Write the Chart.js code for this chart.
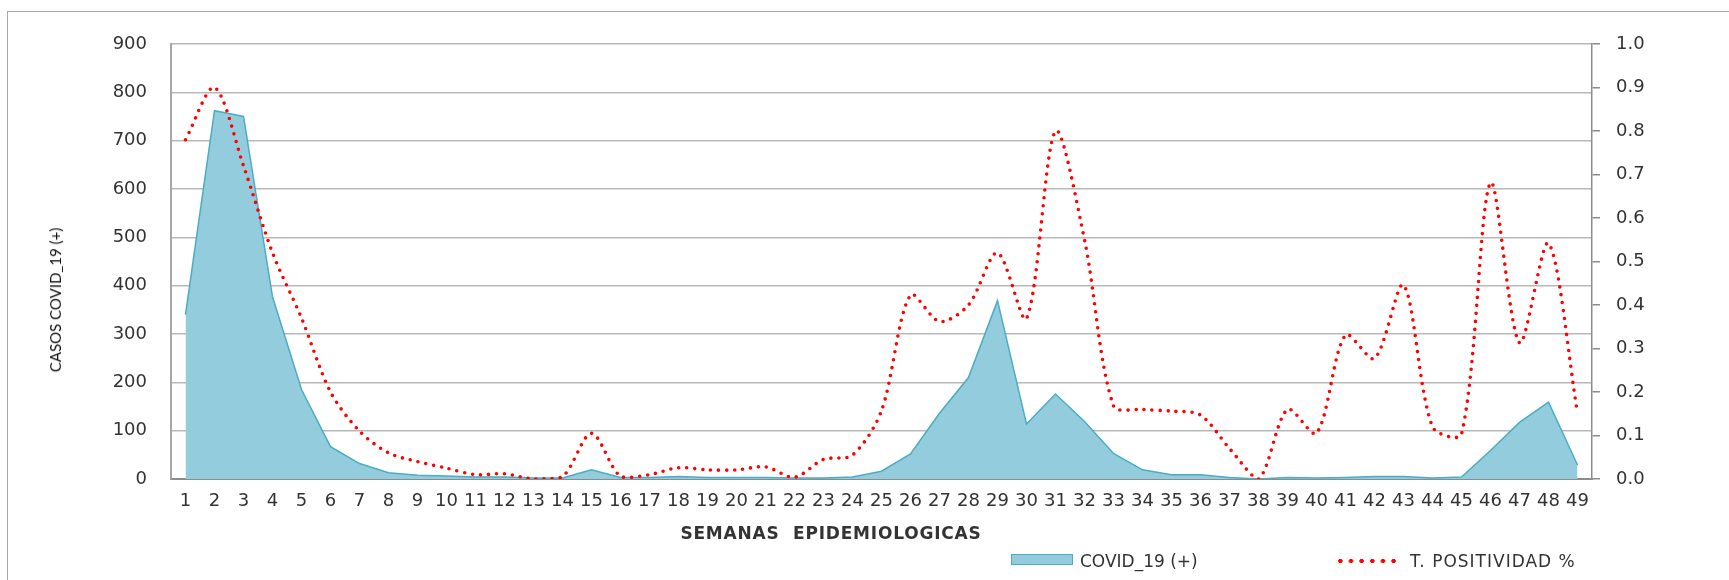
<!DOCTYPE html>
<html>
<head>
<meta charset="utf-8">
<script src="https://cdn.jsdelivr.net/npm/chart.js@4.4.1/dist/chart.umd.min.js"></script>
<style>
  html, body { margin: 0; padding: 0; background: #ffffff; overflow: hidden; }
  #wrap { position: relative; width: 1729px; height: 580px; }
  #frame { position: absolute; left: 7px; top: 11px; width: 1740px; height: 600px; border: 1.5px solid #A9A9A9; box-sizing: border-box; }
  canvas { position: absolute; left: 0; top: 0; }
  .txt { position: absolute; white-space: pre; color: #333333; font-family: "DejaVu Sans", Verdana, sans-serif; line-height: 20px; }
  #xtitle { font-weight: bold; font-size: 17px; letter-spacing: 0.8px; top: 523px; left: 0; width: 1662px; text-align: center; }
  #ytitle { font-family: Lato, "Liberation Sans", sans-serif; font-size: 15px; color: #111; left: 55px; top: 300px; transform: translate(-50%, -50%) rotate(-90deg); }
  #sw1 { position: absolute; left: 1011px; top: 554px; width: 62px; height: 11px; background: #93CDDD; border: 1.5px solid #4BACC6; box-sizing: border-box; }
  #sw2 { position: absolute; left: 1335px; top: 558px; width: 64px; height: 6px;
         background-image: radial-gradient(circle, #FF0000 1.9px, rgba(255,0,0,0) 2.5px);
         background-size: 10.667px 6px; }
  #lt1 { left: 1080px; top: 551px; font-size: 17px; }
  #lt2 { left: 1410px; top: 551px; font-size: 17px; letter-spacing: 1px; }
</style>
</head>
<body>
<div id="wrap">
  <div id="frame"></div>
  <canvas id="c" width="1729" height="580"></canvas>
  <div class="txt" id="xtitle">SEMANAS  EPIDEMIOLOGICAS</div>
  <div class="txt" id="ytitle">CASOS COVID_19 (+)</div>
  <div id="sw1"></div><div class="txt" id="lt1">COVID_19 (+)</div>
  <div id="sw2"></div><div class="txt" id="lt2">T. POSITIVIDAD %</div>
</div>
<script>
// ---- data ----
const weeks = ['1','2','3','4','5','6','7','8','9','10','11','12','13','14','15','16','17','18','19','20',
  '21','22','23','24','25','26','27','28','29','30','31','32','33','34','35','36','37','38','39','40',
  '41','42','43','44','45','46','47','48','49'];

const casosCovid = [340, 762, 750, 377, 185, 67, 32, 13, 8, 6,
  4, 4, 2, 2, 19, 3, 3, 5, 3, 3,
  3, 2, 2, 4, 16, 52, 136, 210, 369, 114,
  176, 119, 53, 19, 9, 9, 3, 0, 3, 2,
  3, 5, 5, 2, 4, 59, 117, 159, 29];

const tasaPositividad = [0.78, 0.90, 0.72, 0.52, 0.37, 0.20, 0.11, 0.06, 0.04, 0.025,
  0.01, 0.012, 0.0, 0.005, 0.105, 0.006, 0.01, 0.026, 0.021, 0.021,
  0.028, 0.004, 0.045, 0.055, 0.157, 0.423, 0.362, 0.40, 0.52, 0.369,
  0.80, 0.55, 0.168, 0.16, 0.156, 0.147, 0.07, 0.0, 0.16, 0.105,
  0.331, 0.277, 0.446, 0.12, 0.103, 0.681, 0.313, 0.542, 0.152];

const seriesNames = ['COVID_19 (+)', 'T. POSITIVIDAD %'];

// ---- chart ----
const tickFont = { family: "'DejaVu Sans', Verdana, sans-serif", size: 18 };
const tickColor = '#333333';

new Chart(document.getElementById('c'), {
  type: 'line',
  data: {
    labels: weeks,
    datasets: [
      {
        label: seriesNames[1],
        data: tasaPositividad,
        yAxisID: 'y1',
        borderColor: '#FF0000',
        borderWidth: 3.6,
        borderDash: [0, 8],
        borderCapStyle: 'round',
        borderJoinStyle: 'round',
        pointRadius: 0,
        tension: 0.3,
        fill: false,
        order: 0
      },
      {
        label: seriesNames[0],
        data: casosCovid,
        yAxisID: 'y',
        borderColor: '#4BACC6',
        borderWidth: 1.5,
        backgroundColor: '#93CDDD',
        pointRadius: 0,
        tension: 0,
        fill: 'origin',
        order: 1
      }
    ]
  },
  options: {
    responsive: false,
    animation: false,
    devicePixelRatio: 1,
    layout: { padding: { top: 44, left: 0, right: 0, bottom: 0 } },
    plugins: {
      legend: { display: false },
      tooltip: { enabled: false },
      title: { display: false }
    },
    scales: {
      x: {
        type: 'category',
        offset: true,
        grid: { display: false, drawTicks: false },
        border: { display: true, color: '#8C8C8C', width: 2 },
        ticks: { font: tickFont, color: tickColor, padding: 12, maxRotation: 0, autoSkip: false },
        afterFit: (s) => { s.height = 101; }
      },
      y: {
        position: 'left',
        min: 0, max: 900,
        ticks: { stepSize: 100, font: tickFont, color: tickColor, padding: 24 },
        grid: { color: '#B8B8B8', lineWidth: 1.6, drawTicks: false },
        border: { display: true, color: '#A6A6A6', width: 2 },
        afterFit: (s) => { s.width = 171; }
      },
      y1: {
        position: 'right',
        min: 0, max: 1,
        ticks: { stepSize: 0.1, font: tickFont, color: tickColor, padding: 16,
                 callback: (v) => Number(v).toFixed(1) },
        grid: { drawOnChartArea: false, drawTicks: true, tickLength: 8, color: '#8C8C8C', lineWidth: 1.5 },
        border: { display: true, color: '#8C8C8C', width: 1.5 },
        afterFit: (s) => { s.width = 137; }
      }
    }
  }
});
</script>
</body>
</html>
